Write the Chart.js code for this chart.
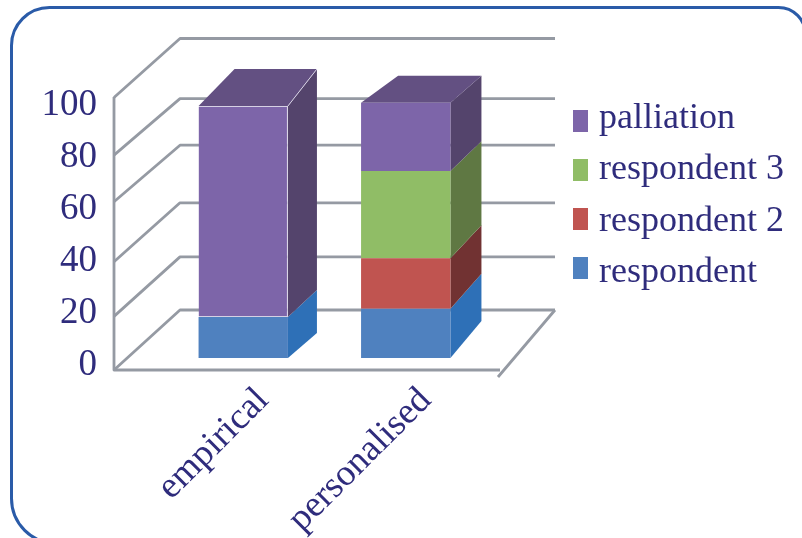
<!DOCTYPE html>
<html>
<head>
<meta charset="utf-8">
<title>Treatment by respondent</title>
<script src="https://cdn.jsdelivr.net/npm/chart.js@4"></script>
<style>
    html, body { margin: 0; padding: 0; background: #fff; overflow: hidden; }
    canvas { display: block; }
</style>
</head>
<body>
<canvas id="stackChart" width="802" height="538"></canvas>
<script>
const categories = ['empirical', 'personalised'];
const respondent = [15, 18];
const respondent2 = [0, 18.5];
const respondent3 = [0, 32];
const palliation = [77.3, 25];
const yTicks = [0, 20, 40, 60, 80, 100];

const fontName = '"Liberation Serif", serif';
const textColor = '#2f2c7c';
const gridColor = '#959aa3';

// 3d look: how far the floor and the bar sides run to the back
const wallDepthX = 66;
const wallDepthY = 60;
const floorRight = 498;
const backRight = 555;
// the gridlines do not sit quite evenly, [front, back] per tick
const gridNudge = [[0, 0], [1, 1.5], [1, 2], [-4.5, -1], [3.5, 7], [0.5, 1.5]];
// side offsets per bar: x of left and right back edge, rise at bottom and at top
const barDepth = [
    { left: 36, right: 29, riseBottom: 25, riseTop: 37 },
    { left: 37, right: 31, riseBottom: 37, riseTop: 27 }
];
const topColor = '#635082';

const makeDataset = (label, data, color, side, edge) => ({
    label: label,
    data: data,
    backgroundColor: color,
    sideColor: side,
    borderColor: '#d6d1e4',
    borderWidth: edge,
    borderSkipped: false,
    barPercentage: 0.55,
    categoryPercentage: 1
});

const walls3d = {
    id: 'walls3d',
    beforeDraw(chart) {
        let ctx = chart.ctx;
        ctx.save();
        ctx.fillStyle = '#fff';
        ctx.fillRect(0, 0, chart.width, chart.height);
        // rounded frame, runs off to the right and the bottom
        ctx.strokeStyle = '#2a5ba8';
        ctx.lineWidth = 3;
        ctx.beginPath();
        ctx.roundRect(11.5, 7.5, 794, 536, [38, 27, 0, 45]);
        ctx.stroke();
        ctx.restore();
    },
    beforeDatasetsDraw(chart) {
        let ctx = chart.ctx;
        let wall = chart.scales.yWall;
        let left = chart.scales.yLabels.left + 114;
        ctx.save();
        ctx.strokeStyle = gridColor;
        ctx.lineWidth = 2.8;
        ctx.lineJoin = 'round';
        yTicks.forEach((tick, i) => {
            let y = wall.getPixelForValue(tick);
            ctx.beginPath();
            ctx.moveTo(left, y + gridNudge[i][0]);
            ctx.lineTo(left + wallDepthX, y - wallDepthY + gridNudge[i][1]);
            ctx.lineTo(backRight, y - wallDepthY + gridNudge[i][1]);
            ctx.stroke();
        });
        // front axis lines and the open corner of the floor
        let y0 = wall.getPixelForValue(0);
        let y100 = wall.getPixelForValue(100);
        ctx.beginPath();
        ctx.moveTo(left, y100);
        ctx.lineTo(left, y0);
        ctx.lineTo(floorRight + 2, y0);
        ctx.moveTo(floorRight, y0 + 7);
        ctx.lineTo(backRight, y0 - wallDepthY);
        ctx.stroke();
        ctx.restore();
        drawBarSides(chart);
    },
    afterDraw(chart) {
        // legend, top of the stack first
        let ctx = chart.ctx;
        ctx.save();
        ctx.font = '36px ' + fontName;
        ctx.textBaseline = 'alphabetic';
        ctx.textAlign = 'left';
        chart.data.datasets.slice().reverse().forEach((ds, i) => {
            ctx.fillStyle = ds.backgroundColor;
            ctx.fillRect(573, 110 + i * 49, 15, 22);
            ctx.fillStyle = textColor;
            ctx.fillText(ds.label, 599, 127.7 + i * 51.4);
        });
        ctx.restore();
    }
};

function drawBarSides(chart) {
    let ctx = chart.ctx;
    let zero = chart.scales.y.getPixelForValue(0);
    let lastIndex = chart.data.datasets.length - 1;
    categories.forEach((name, j) => {
        let d = barDepth[j];
        let lid = chart.getDatasetMeta(lastIndex).data[j];
        let rise = (y) => d.riseBottom + (d.riseTop - d.riseBottom) * (zero - y) / (zero - lid.y);
        chart.data.datasets.forEach((ds, i) => {
            let bar = chart.getDatasetMeta(i).data[j];
            if (ds.data[j] === 0) return;
            let right = bar.x + bar.width / 2;
            ctx.fillStyle = ds.sideColor;
            ctx.beginPath();
            ctx.moveTo(right, bar.base);
            ctx.lineTo(right + d.right, bar.base - rise(bar.base));
            ctx.lineTo(right + d.right, bar.y - rise(bar.y));
            ctx.lineTo(right, bar.y);
            ctx.closePath();
            ctx.fill();
        });
        // lid on the last stacked piece
        let l = lid.x - lid.width / 2;
        let r = lid.x + lid.width / 2;
        let h = rise(lid.y);
        ctx.fillStyle = topColor;
        ctx.beginPath();
        ctx.moveTo(l, lid.y);
        ctx.lineTo(l + d.left, lid.y - h);
        ctx.lineTo(r + d.right, lid.y - h);
        ctx.lineTo(r, lid.y);
        ctx.closePath();
        ctx.fill();
        // first bar carries a pale edge on the corner
        if (j === 0) {
            ctx.strokeStyle = '#d6d1e4';
            ctx.lineWidth = 1;
            ctx.beginPath();
            ctx.moveTo(r, lid.y);
            ctx.lineTo(r + d.right, lid.y - h);
            ctx.stroke();
        }
    });
}

const stackChart = new Chart(document.getElementById('stackChart'), {
    type: 'bar',
    plugins: [walls3d],
    data: {
        labels: categories,
        datasets: [
            makeDataset('respondent', respondent, '#4f81bf', '#2e70b7', 0),
            makeDataset('respondent 2', respondent2, '#c05450', '#713232', 0),
            makeDataset('respondent 3', respondent3, '#90bd66', '#5f7843', 0),
            makeDataset('palliation', palliation, '#7d65a9', '#54446c', [{ top: 1, right: 1, bottom: 1, left: 0 }, 0])
        ]
    },
    options: {
        responsive: false,
        animation: false,
        layout: { padding: { top: 97, right: 315, left: 0, bottom: 0 } },
        plugins: {
            legend: { display: false },
            tooltip: { enabled: false }
        },
        scales: {
            x: {
                stacked: true,
                grid: { display: false },
                border: { display: false },
                afterFit: (scale) => { scale.height = 168; },
                ticks: {
                    autoSkip: false,
                    minRotation: 45,
                    maxRotation: 45,
                    padding: 1,
                    labelOffset: 20,
                    color: textColor,
                    font: { family: fontName, size: 37 }
                }
            },
            // the bars stand a little in front of the wall
            y: {
                stacked: true,
                display: false,
                min: -4.4,
                max: 95.6
            },
            yWall: {
                display: false,
                min: 0,
                max: 100
            },
            yLabels: {
                position: 'left',
                min: -1.92,
                max: 103.08,
                grid: { display: false, drawTicks: false },
                border: { display: false },
                afterFit: (scale) => { scale.width = 162; },
                afterBuildTicks: (scale) => { scale.ticks = yTicks.map(v => ({ value: v })); },
                ticks: {
                    padding: 65,
                    color: textColor,
                    callback: (v) => v,
                    font: { family: fontName, size: 37 }
                }
            }
        }
    }
});
</script>
</body>
</html>
